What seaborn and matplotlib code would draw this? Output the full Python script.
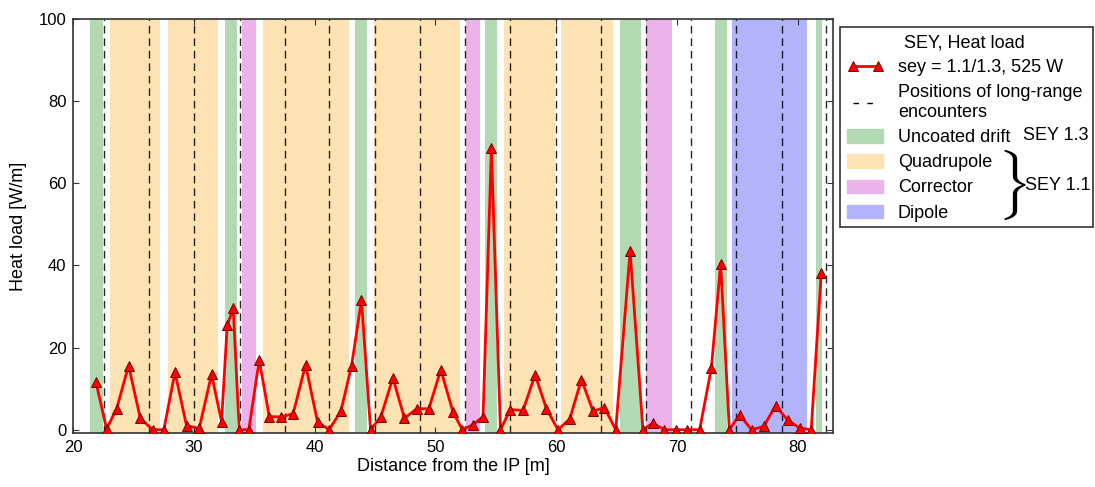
import matplotlib
matplotlib.use("Agg")
import matplotlib.pyplot as plt
import seaborn as sns
import pandas as pd
from matplotlib.patches import Patch, Rectangle
from matplotlib.lines import Line2D

# ---- data ----
pos_m = [21.88, 22.76, 23.59, 24.58, 25.55, 26.57, 27.50, 28.42, 29.38, 30.43,
         31.45, 32.28, 32.75, 33.25, 33.74, 34.54, 35.40, 36.23, 37.19, 38.21,
         39.24, 40.23, 41.19, 42.16, 43.05, 43.87, 44.62, 45.47, 46.47, 47.43,
         48.45, 49.45, 50.44, 51.46, 52.23, 53.11, 53.94, 54.63, 55.38, 56.20,
         57.25, 58.25, 59.19, 60.15, 61.12, 62.09, 63.05, 63.99, 64.93, 66.12,
         67.18, 68.01, 68.96, 69.89, 70.86, 71.88, 72.85, 73.62, 74.34, 75.19,
         76.18, 77.18, 78.17, 79.16, 80.16, 81.12, 81.95]
heat_load = [11.5, 0.2, 5.1, 15.6, 2.8, 0.0, 0.0, 14.0, 1.0, 0.3,
             13.5, 2.0, 25.4, 29.6, 0.0, 0.0, 17.0, 3.2, 3.1, 3.9,
             15.8, 1.9, 0.0, 4.5, 15.6, 31.6, 0.0, 3.1, 12.6, 2.8,
             5.1, 5.1, 14.6, 4.2, 0.0, 1.2, 3.2, 68.5, 0.0, 4.9,
             4.7, 13.4, 5.1, 0.0, 2.6, 12.2, 4.5, 5.4, 0.0, 43.5,
             0.0, 1.6, 0.0, 0.0, 0.0, 0.0, 15.0, 40.4, 0.0, 3.6,
             0.0, 0.8, 5.8, 2.4, 0.4, 0.0, 38.1]

encounters = [22.54, 26.27, 30.02, 33.80, 37.50, 41.19, 45.00, 48.70, 52.45,
              56.20, 59.99, 63.68, 67.41, 71.13, 74.88, 78.67, 82.37]

drift_bands = [(21.38, 22.48), (32.60, 33.55), (43.35, 44.31), (54.08, 55.10),
               (65.26, 67.00), (73.18, 74.14), (81.54, 82.00)]
quad_bands = [(23.04, 27.18), (27.81, 32.00), (35.68, 42.82), (44.89, 52.07),
              (55.65, 59.88), (60.43, 64.70)]
corr_bands = [(33.97, 35.12), (52.50, 53.72), (67.41, 69.59)]
dip_bands = [(74.55, 80.79)]

legend_title = "SEY, Heat load"
series_label = "sey = 1.1/1.3, 525 W"
enc_label = "Positions of long-range\nencounters"
band_labels = ["Uncoated drift", "Quadrupole", "Corrector", "Dipole"]

c_drift = "#b3d9b3"
c_quad = "#fde2b4"
c_corr = "#ebb3ea"
c_dip = "#b3b3fc"

# ---- style ----
sns.set_style("ticks")
plt.rcParams["font.family"] = ["Liberation Sans", "DejaVu Sans"]
plt.rcParams["xtick.direction"] = "in"
plt.rcParams["ytick.direction"] = "in"
plt.rcParams["text.color"] = "black"
plt.rcParams["axes.labelcolor"] = "black"
plt.rcParams["xtick.labelcolor"] = "black"
plt.rcParams["ytick.labelcolor"] = "black"

W, H = 1095, 487
fig = plt.figure(figsize=(W / 100, H / 100), dpi=100)
ax = fig.add_axes([73.3 / W, 1 - 433 / H, (832.7 - 73.3) / W, (433 - 19) / H])

for a, b in drift_bands:
    ax.axvspan(a, b, color=c_drift, lw=0, zorder=0)
for a, b in quad_bands:
    ax.axvspan(a, b, color=c_quad, lw=0, zorder=0)
for a, b in corr_bands:
    ax.axvspan(a, b, color=c_corr, lw=0, zorder=0)
for a, b in dip_bands:
    ax.axvspan(a, b, color=c_dip, lw=0, zorder=0)

for xe in encounters:
    ax.axvline(xe, color="black", lw=1.0, ls=(0, (5.5, 3.5)), alpha=0.85, zorder=1)

df = pd.DataFrame({"pos": pos_m, "hl": heat_load})
sns.lineplot(data=df, x="pos", y="hl", ax=ax, color="red", lw=2,
             marker="^", markersize=7.5, markerfacecolor="red",
             markeredgecolor="#7a0000", markeredgewidth=0.7, zorder=3)

ax.set_xlim(20, 82.9)
ax.set_ylim(-0.8, 100)
ax.set_xticks([20, 30, 40, 50, 60, 70, 80])
ax.set_yticks([0, 20, 40, 60, 80, 100])
ax.tick_params(axis="both", which="both", top=True, right=True, labelsize=12,
               length=4, width=0.8, color="#333333", pad=5)
for s in ax.spines.values():
    s.set_color("#333333")
    s.set_linewidth(1.2)
ax.set_xlabel("Distance from the IP [m]", fontsize=13, labelpad=2)
ax.set_ylabel("Heat load [W/m]", fontsize=13, labelpad=8)

handles = [
    Line2D([0], [0], color="red", lw=2, marker="^", markersize=7.5,
           markerfacecolor="red", markeredgecolor="#7a0000", markeredgewidth=0.7),
    Line2D([0], [0], color="black", lw=1.0, ls=(0, (4, 6))),
    Patch(color=c_drift), Patch(color=c_quad), Patch(color=c_corr), Patch(color=c_dip),
]
labels = [series_label, enc_label] + band_labels
leg = fig.legend(handles, labels, title=legend_title, loc="upper left",
                 bbox_to_anchor=(840 / W, 1 - 27 / H), fontsize=13, title_fontsize=13,
                 frameon=False, handlelength=2.0, handleheight=0.75, numpoints=2,
                 labelspacing=0.45, borderpad=0.4, handletextpad=0.8,
                 borderaxespad=0)

fig.patches.append(Rectangle((840 / W, 1 - 227 / H), (1093 - 840) / W, (227 - 27) / H,
                             transform=fig.transFigure, fill=False,
                             edgecolor="#333333", lw=1.2, zorder=5))

fig.text(1056 / W, 1 - 135 / H, "SEY 1.3", fontsize=13, ha="center", va="center")
fig.text(1012 / W, 1 - 185 / H, r"$\}$", fontsize=42, math_fontfamily="cm",
         ha="center", va="center")
fig.text(1058 / W, 1 - 186 / H, "SEY 1.1", fontsize=13, ha="center", va="center")

fig.savefig("out.png", dpi=100)
